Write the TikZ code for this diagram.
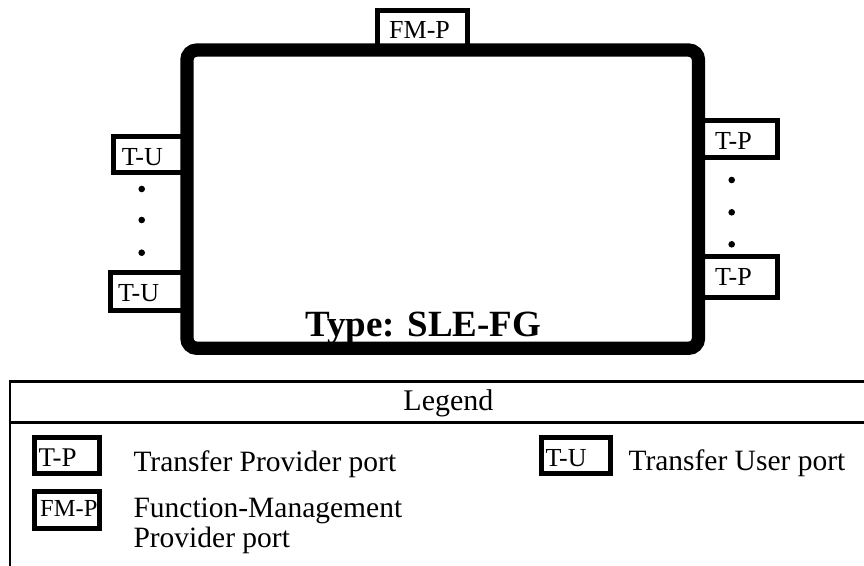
\documentclass[tikz,border=0pt]{standalone}
\usepackage{fontspec}
\setmainfont{Liberation Serif}
\begin{document}
\begin{tikzpicture}[x=1pt,y=-1pt,
  portbox/.style={draw, line width=5pt, fill=white, inner sep=0pt},
  porttxt/.style={font=\fontsize{26}{28}\selectfont, inner sep=0pt, anchor=base west},
  mainbox/.style={draw, line width=13.3pt, rounded corners=10pt, inner sep=0pt},
  legline/.style={line width=2.5pt},
  legtxt/.style={font=\fontsize{29.5}{31}\selectfont, inner sep=0pt, anchor=base west},
  ellipsisdot/.style={fill=black, circle, minimum size=6.6pt, inner sep=0pt}]
\useasboundingbox (0,0) rectangle (864,565);
% ports of the main box
\node[portbox, minimum width=90pt, minimum height=39.2pt] (fmp) at (422.5,30.4) {};
\node[porttxt] (fmpt) at (389,38.3) {FM-P};
\node[portbox, minimum width=73.7pt, minimum height=36pt] (tu1) at (150.05,154.5) {};
\node[porttxt] (tu1t) at (121.7,165) {T-U};
\node[portbox, minimum width=76.4pt, minimum height=37.7pt] (tu2) at (148.7,291.35) {};
\node[porttxt] (tu2t) at (118,301.7) {T-U};
\node[portbox, minimum width=78.5pt, minimum height=37.5pt] (tp1) at (737.75,138.75) {};
\node[porttxt] (tp1t) at (715,149) {T-P};
\node[portbox, minimum width=78.5pt, minimum height=41pt] (tp2) at (737.75,277) {};
\node[porttxt] (tp2t) at (715,285) {T-P};
% dots
\node[ellipsisdot] (ld1) at (141.7,189) {};
\node[ellipsisdot] (ld2) at (141.7,220) {};
\node[ellipsisdot] (ld3) at (141.7,252.7) {};
\node[ellipsisdot] (rd1) at (731.7,180) {};
\node[ellipsisdot] (rd2) at (731.7,212.3) {};
\node[ellipsisdot] (rd3) at (731.7,244.3) {};
% main box
\node[mainbox, minimum width=511.6pt, minimum height=298.3pt] (fg) at (442.7,199.15) {};
\node[inner sep=0pt, anchor=base, font=\fontsize{37}{39}\selectfont\bfseries] (fgt) at (423.4,336) {Type: SLE-FG};
% legend frame
\draw[legline] (10,567) -- (10,381.3) -- (868,381.3);
\draw[legline] (10,422.5) -- (868,422.5);
\node[inner sep=0pt, anchor=base, font=\fontsize{30}{32}\selectfont] (legend) at (448.4,410.5) {Legend};
% legend entries
\node[portbox, minimum width=65pt, minimum height=36pt] (ltp) at (66.7,455.5) {};
\node[porttxt, font=\fontsize{27}{29}\selectfont] (ltpt) at (38.3,466.7) {T-P};
\node[legtxt] (ltpd) at (133.3,471) {Transfer Provider port};
\node[portbox, minimum width=69.5pt, minimum height=36pt] (ltu) at (576.05,455.5) {};
\node[porttxt] (ltut) at (545.5,466.5) {T-U};
\node[legtxt] (ltud) at (628.3,470) {Transfer User port};
\node[portbox, minimum width=65pt, minimum height=36.7pt] (lfm) at (66.7,510.15) {};
\node[porttxt, font=\fontsize{24.5}{26}\selectfont] (lfmt) at (40,516.7) {FM-P};
\node[legtxt] (lfmd1) at (133.3,517) {Function-Management};
\node[legtxt] (lfmd2) at (133.3,547.5) {Provider port};
\end{tikzpicture}
\end{document}
